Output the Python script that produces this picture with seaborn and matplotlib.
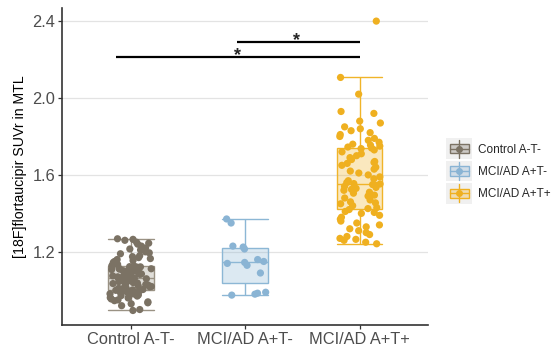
import numpy as np
import pandas as pd
import seaborn as sns
import matplotlib.pyplot as plt
from matplotlib.colors import to_rgba
from matplotlib.legend_handler import HandlerBase
from matplotlib.lines import Line2D
from matplotlib.patches import Rectangle

groups = ["Control A-T-", "MCI/AD A+T-", "MCI/AD A+T+"]

control = [0.895, 0.90, 0.92, 0.93, 0.935, 0.94, 0.946, 0.95, 0.955, 0.96,
           0.962, 0.966, 0.97, 0.972, 0.976, 0.98, 0.982, 0.985, 0.99, 0.991,
           0.993, 0.995, 0.998, 1.0, 1.002, 1.004, 1.008, 1.01, 1.015, 1.018,
           1.02, 1.023, 1.027, 1.03, 1.032, 1.035, 1.038, 1.04, 1.042, 1.045,
           1.048, 1.05, 1.052, 1.055, 1.057, 1.06, 1.062, 1.063, 1.065, 1.066,
           1.067, 1.07, 1.072, 1.075, 1.078, 1.08, 1.083, 1.085, 1.088, 1.09,
           1.092, 1.095, 1.098, 1.10, 1.102, 1.105, 1.108, 1.11, 1.112, 1.115,
           1.117, 1.12, 1.122, 1.123, 1.124, 1.125, 1.13, 1.135, 1.14, 1.145,
           1.15, 1.155, 1.16, 1.165, 1.17, 1.175, 1.18, 1.19, 1.195, 1.20,
           1.21, 1.215, 1.22, 1.23, 1.24, 1.245, 1.25, 1.26, 1.265, 1.268]

mci_neg = [0.975, 0.98, 0.985, 0.99, 1.09, 1.13, 1.14, 1.145, 1.15, 1.16,
           1.215, 1.225, 1.23, 1.35, 1.371]

mci_pos = [1.242, 1.25, 1.26, 1.265, 1.27, 1.28, 1.29, 1.30, 1.31, 1.32,
           1.33, 1.34, 1.35, 1.36, 1.37, 1.38, 1.39, 1.40, 1.405, 1.41,
           1.42, 1.425, 1.43, 1.44, 1.45, 1.455, 1.46, 1.47, 1.48, 1.49,
           1.495, 1.50, 1.505, 1.51, 1.52, 1.525, 1.53, 1.535, 1.54, 1.545,
           1.55, 1.553, 1.555, 1.56, 1.57, 1.58, 1.59, 1.60, 1.61, 1.62,
           1.63, 1.64, 1.65, 1.66, 1.665, 1.67, 1.68, 1.69, 1.70, 1.71,
           1.72, 1.73, 1.737, 1.74, 1.745, 1.75, 1.755, 1.76, 1.77, 1.78,
           1.79, 1.80, 1.81, 1.82, 1.83, 1.84, 1.85, 1.87, 1.88, 1.92,
           1.93, 2.02, 2.107, 2.40]

# significance brackets: (start group pos, end group pos, height)
brackets = [(-0.13, 2.0, 2.213), (0.93, 2.0, 2.29)]
stars_x = [0.93, 1.45]

line_colors = ["#9a9284", "#8cb7d5", "#f0b429"]
point_colors = ["#7b7264", "#8ab4d4", "#efb020"]

df = pd.DataFrame({
    "group": [groups[0]] * len(control) + [groups[1]] * len(mci_neg) + [groups[2]] * len(mci_pos),
    "suvr": control + mci_neg + mci_pos,
})

sns.set_theme(style="white")
plt.rcParams["font.family"] = ["Liberation Sans", "DejaVu Sans"]

fig = plt.figure(figsize=(5.54, 3.49), dpi=100)
ax = fig.add_axes([0.112, 0.069, 0.661, 0.908])

for y in [1.2, 1.6, 2.0, 2.4]:
    ax.axhline(y, color="#e3e3e3", lw=0.9, zorder=0)

sns.boxplot(data=df, x="group", y="suvr", hue="group", order=groups, hue_order=groups,
            palette=line_colors, width=0.4, showfliers=False, linewidth=1.0,
            legend=False, ax=ax)

for cont, c in zip(ax.containers, line_colors):
    for b in cont.boxes:
        b.set_facecolor(to_rgba(c, 0.3))
        b.set_edgecolor(c)
    for l in list(cont.whiskers) + list(cont.caps) + list(cont.medians):
        l.set_color(c)
    for cap in cont.caps:
        mid = np.mean(cap.get_xdata())
        cap.set_xdata([mid - 0.2, mid + 0.2])

np.random.seed(3)
sns.stripplot(data=df, x="group", y="suvr", hue="group", order=groups, hue_order=groups,
              palette=point_colors, jitter=0.19, size=5.2, legend=False, ax=ax, zorder=3)

for (x0, x1, y), sx in zip(brackets, stars_x):
    ax.plot([x0, x1], [y, y], color="black", lw=1.6, solid_capstyle="butt")
    ax.text(sx, y - 0.035, "*", ha="center", va="bottom", fontsize=13, fontweight="bold")

ax.set_xlim(-0.6, 2.6)
ax.set_ylim(0.82, 2.468)
ax.set_yticks([1.2, 1.6, 2.0, 2.4])
ax.set_yticklabels(["1.2", "1.6", "2.0", "2.4"])
ax.set_xlabel("")
ax.set_ylabel("[18F]flortaucipir SUVr in MTL", fontsize=10.2, color="black", labelpad=4)
ax.tick_params(axis="both", labelsize=11.8, labelcolor="#4d4d4d", color="#333333",
               length=3, width=0.9, direction="out", bottom=True, left=True, pad=2)
sns.despine(ax=ax)
for s in ["left", "bottom"]:
    ax.spines[s].set_color("#333333")
    ax.spines[s].set_linewidth(1.2)


class BoxKey(HandlerBase):
    def create_artists(self, legend, orig_handle, xd, yd, width, height, fontsize, trans):
        c = orig_handle.get_color()
        x0, y0 = -xd, -yd
        cx, cy = x0 + width / 2, y0 + height / 2
        bg = Rectangle((x0 - 1, y0 - 2), width + 2, height + 4, facecolor="#f0f0f0",
                       edgecolor="none", transform=trans)
        vl = Line2D([cx, cx], [y0 - 1, y0 + height + 1], color=c, lw=1.0, transform=trans)
        box = Rectangle((x0 + 1.5, y0 + height * 0.2), width - 3, height * 0.6,
                        facecolor=to_rgba(c, 0.3), edgecolor=c, lw=1.0, transform=trans)
        med = Line2D([x0 + 1.5, x0 + width - 1.5], [cy, cy], color=c, lw=1.0, transform=trans)
        dot = Line2D([cx], [cy], marker="o", markersize=4, color=c, lw=0, transform=trans)
        return [bg, vl, box, med, dot]


handles = [Line2D([], [], color=c) for c in point_colors]
fig.legend(handles, groups, handler_map={Line2D: BoxKey()}, loc="center left",
           bbox_to_anchor=(0.797, 0.51), frameon=False, fontsize=8.5,
           handlelength=2.0, handleheight=1.6, labelspacing=0.6, handletextpad=0.6,
           borderpad=0)

fig.savefig("out.png", dpi=100)
